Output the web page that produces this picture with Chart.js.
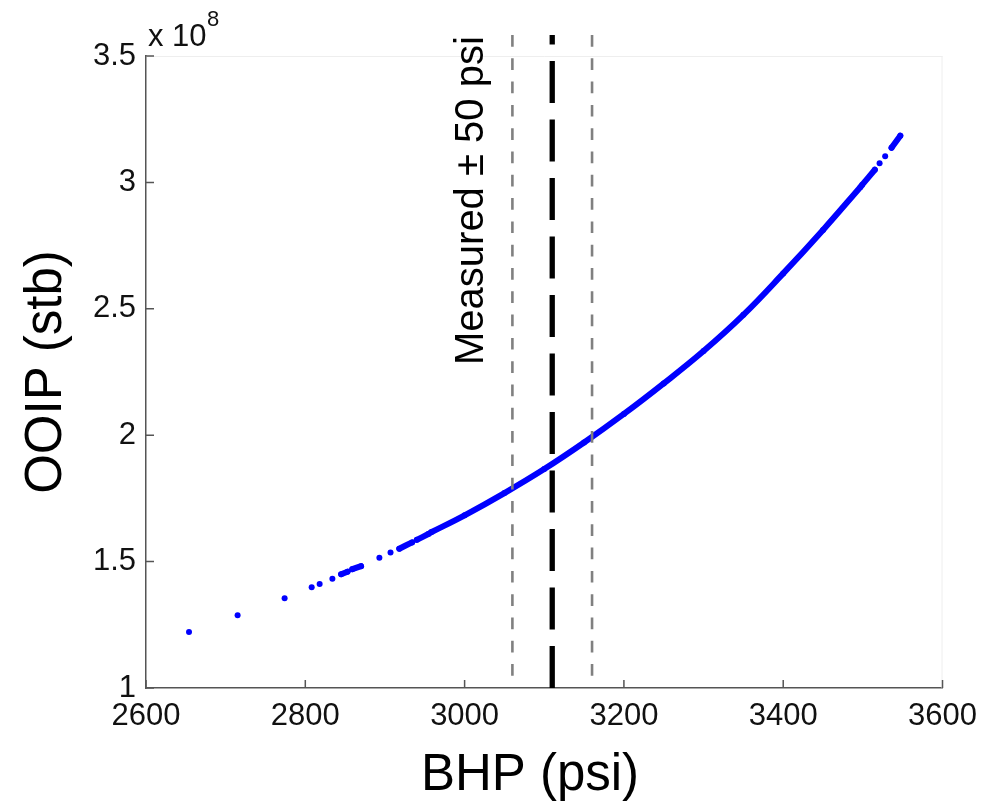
<!DOCTYPE html>
<html>
<head>
<meta charset="utf-8">
<title>OOIP vs BHP</title>
<script src="https://cdn.jsdelivr.net/npm/chart.js@4.4.1/dist/chart.umd.min.js"></script>
<style>
  html, body { margin: 0; padding: 0; background: #fff; }
  #wrap { width: 987px; height: 806px; }
</style>
</head>
<body>
<div id="wrap"><canvas id="ooipChart"></canvas></div>
<script>
// Bottom-hole pressure samples (psi) and matching OOIP (stb).
// A null pair breaks the curve so sparse samples show as separate dots.
const bhpPsi = [
  2654, null, 2715, null, 2774, null, 2808, null, 2818, null, 2834, null,
  2845, 2853, null, 2859, 2870, null, 2893, null, 2907, null,
  2918, 2934, null, 2940, 2955, null,
  2958, 3000, 3050, 3100, 3150, 3200, 3250, 3300, 3350, 3400, 3450, 3497, null,
  3499, 3515, null, 3521, null, 3528, null, 3536, 3547
];
const ooipStb = [
  1.222e8, null, 1.288e8, null, 1.355e8, null, 1.399e8, null, 1.411e8, null, 1.432e8, null,
  1.450e8, 1.460e8, null, 1.470e8, 1.482e8, null, 1.515e8, null, 1.536e8, null,
  1.551e8, 1.576e8, null, 1.586e8, 1.610e8, null,
  1.616e8, 1.683e8, 1.771e8, 1.866e8, 1.971e8, 2.084e8, 2.205e8, 2.333e8, 2.476e8, 2.640e8, 2.812e8, 2.982e8, null,
  2.990e8, 3.050e8, null, 3.076e8, null, 3.103e8, null, 3.137e8, 3.185e8
];

// measured pressure and the +/- band around it
const measuredBhp = 3110;
const bandPsi = 50;

// axis ranges / ticks
const xTicks = [2600, 2800, 3000, 3200, 3400, 3600];
const yTicks = [1e8, 1.5e8, 2e8, 2.5e8, 3e8, 3.5e8];
const yTickLabels = ['1', '1.5', '2', '2.5', '3', '3.5'];

// vertical markers run a bit above the top of the axes
const markerTop = 3.583e8;
const bandBottom = 1.048e8;

const curvePoints = bhpPsi.map((x, i) => ({ x: x, y: ooipStb[i] }));

const fontFamily = '"Liberation Sans", Arial, sans-serif';

// inward tick marks on the left and bottom axes, plus the extra labels
const innerTicks = {
  id: 'innerTicks',
  afterDatasetsDraw(chart) {
    const { ctx, chartArea: a, scales: { x, y } } = chart;
    ctx.save();
    // faint top and right frame edges
    ctx.strokeStyle = '#eeeeee';
    ctx.lineWidth = 1;
    ctx.beginPath();
    ctx.moveTo(a.left, a.top + 0.5);
    ctx.lineTo(a.right, a.top + 0.5);
    ctx.moveTo(a.right - 0.5, a.top);
    ctx.lineTo(a.right - 0.5, a.bottom);
    ctx.stroke();

    ctx.strokeStyle = '#555555';
    ctx.lineWidth = 1.5;
    ctx.beginPath();
    xTicks.forEach(v => {
      const px = x.getPixelForValue(v);
      ctx.moveTo(px, a.bottom);
      ctx.lineTo(px, a.bottom - 8);
    });
    yTicks.forEach(v => {
      const py = y.getPixelForValue(v);
      ctx.moveTo(a.left, py);
      ctx.lineTo(a.left + 8, py);
    });
    ctx.stroke();
    ctx.restore();
  },
  afterDraw(chart) {
    const { ctx, chartArea: a, scales: { x } } = chart;
    ctx.save();
    ctx.fillStyle = '#111111';
    // exponent above the y axis
    ctx.textAlign = 'left';
    ctx.textBaseline = 'alphabetic';
    ctx.font = '31px ' + fontFamily;
    ctx.fillText('x 10', a.left + 2, a.top - 10);
    ctx.font = '22px ' + fontFamily;
    ctx.fillText('8', a.left + 61, a.top - 30);

    // x axis title, sits a little left of the axis centre
    ctx.fillStyle = '#000000';
    ctx.textAlign = 'center';
    ctx.textBaseline = 'middle';
    ctx.font = '51px ' + fontFamily;
    ctx.fillText('BHP (psi)', a.left + 384, a.bottom + 88);

    // rotated label beside the band
    ctx.textAlign = 'left';
    ctx.textBaseline = 'alphabetic';
    ctx.font = '40px ' + fontFamily;
    ctx.translate(x.getPixelForValue(measuredBhp - bandPsi) - 29, a.top + 309);
    ctx.rotate(-Math.PI / 2);
    ctx.fillText('Measured \u00B1 50 psi', 0, 0);
    ctx.restore();
  }
};

const tickFont = { family: fontFamily, size: 31 };
const titleFont = { family: fontFamily, size: 51 };

new Chart(document.getElementById('ooipChart'), {
  type: 'scatter',
  data: {
    datasets: [
      {
        label: 'Measured',
        data: [{ x: measuredBhp, y: 1e8 }, { x: measuredBhp, y: markerTop }],
        showLine: true,
        borderColor: '#000000',
        borderWidth: 5.3,
        borderDash: [42, 16.5],
        pointRadius: 0,
        clip: false
      },
      {
        label: 'Measured - 50 psi',
        data: [{ x: measuredBhp - bandPsi, y: markerTop }, { x: measuredBhp - bandPsi, y: bandBottom }],
        showLine: true,
        borderColor: '#808080',
        borderWidth: 2.6,
        borderDash: [11.7, 11.6],
        pointRadius: 0,
        clip: false
      },
      {
        label: 'Measured + 50 psi',
        data: [{ x: measuredBhp + bandPsi, y: markerTop }, { x: measuredBhp + bandPsi, y: bandBottom }],
        showLine: true,
        borderColor: '#808080',
        borderWidth: 2.6,
        borderDash: [11.7, 11.6],
        pointRadius: 0,
        clip: false
      },
      {
        label: 'OOIP',
        data: curvePoints,
        showLine: true,
        spanGaps: false,
        tension: 0.4,
        borderColor: '#0000ff',
        backgroundColor: '#0000ff',
        borderWidth: 6,
        borderCapStyle: 'round',
        pointRadius: 3,
        pointBorderWidth: 0,
        clip: false
      }
    ]
  },
  options: {
    responsive: true,
    maintainAspectRatio: false,
    animation: false,
    layout: { padding: { left: 0, top: 56, right: 42, bottom: 0 } },
    plugins: {
      legend: { display: false },
      tooltip: { enabled: false }
    },
    scales: {
      x: {
        type: 'linear',
        min: 2600,
        max: 3600,
        afterFit: s => { s.height = 118; },
        afterBuildTicks: s => { s.ticks = xTicks.map(v => ({ value: v })); },
        ticks: {
          color: '#111111',
          font: tickFont,
          padding: 10,
          maxRotation: 0,
          callback: v => String(v)
        },
        grid: { display: false, drawTicks: false },
        border: { display: true, color: '#555555', width: 1.5 },
        title: { display: false }
      },
      y: {
        type: 'linear',
        min: 1e8,
        max: 3.5e8,
        afterFit: s => { s.width = 146; },
        afterBuildTicks: s => { s.ticks = yTicks.map(v => ({ value: v })); },
        ticks: {
          color: '#111111',
          font: tickFont,
          padding: 10,
          callback: v => yTickLabels[yTicks.indexOf(v)]
        },
        grid: { display: false, drawTicks: false },
        border: { display: true, color: '#555555', width: 1.5 },
        title: {
          display: true,
          text: 'OOIP (stb)',
          color: '#000000',
          font: titleFont,
          padding: { top: 16, bottom: 0 }
        }
      }
    }
  },
  plugins: [innerTicks]
});
</script>
</body>
</html>
